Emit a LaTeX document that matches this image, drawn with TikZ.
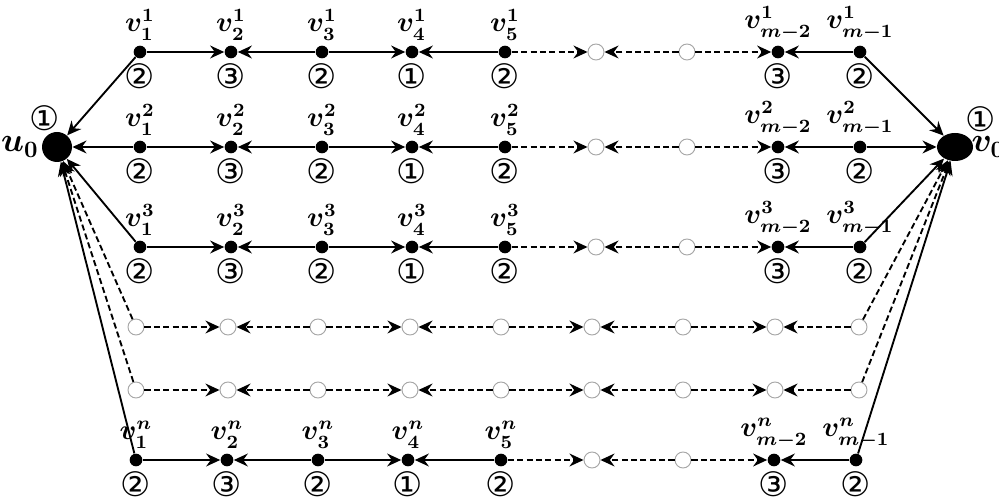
\documentclass[tikz,border=0pt]{standalone}
\usepackage{fontspec}
\newfontfamily\circfont{DejaVu Sans}
\usetikzlibrary{arrows.meta,shapes.geometric}

\tikzset{
  dot/.style={circle,fill=black,inner sep=0pt,minimum size=0.19cm},
  hole/.style={circle,draw=black!35,fill=white,inner sep=0pt,minimum size=0.24cm},
  lab/.style={font=\boldmath\large,inner sep=1pt,label distance=1pt},
  num/.style={font=\circfont\Large,inner sep=0pt,label distance=2pt},
  arr/.style={-{Stealth[length=6pt,width=5.5pt,inset=2pt]},line width=0.8pt},
  darr/.style={arr,dash pattern=on 2.6pt off 1.4pt},
}

\begin{document}
\begin{tikzpicture}[x=0.015cm,y=-0.015cm]
  \useasboundingbox (0,0) rectangle (999,499);

  % end vertices
  \node[circle,fill=black,inner sep=0pt,minimum size=0.45cm,
        label={[lab,font=\boldmath\Large,label distance=0pt]left:$u_0$},
        label={[num,label distance=0pt,xshift=-0.18cm]above:①}] (u0) at (57,147) {};
  \node[ellipse,fill=black,inner sep=0pt,minimum width=0.54cm,minimum height=0.42cm,
        label={[lab,font=\boldmath\Large,label distance=-2pt]right:$v_0$},
        label={[num,label distance=1pt]55:①}] (v0) at (955,147) {};

  % labelled paths
  \foreach \r/\y/\s in {1/52/0, 2/147/0, 3/247/0, n/460/-4}{
    \foreach \c/\x/\i/\k in {1/140/1/②, 2/231/2/③, 3/322/3/②, 4/412/4/①,
                             5/505/5/②, 8/778/m-2/③, 9/860/m-1/②}
      \node[dot,label={[lab]above:$v^{\r}_{\i}$},label={[num]below:\k}]
        (v\r-\c) at (\x+\s,\y) {};
    \node[hole] (v\r-6) at (596+\s,\y) {};
    \node[hole] (v\r-7) at (687+\s,\y) {};
    \foreach \a/\b/\st in {1/2/arr, 3/2/arr, 3/4/arr, 5/4/arr,
                           5/6/darr, 7/6/darr, 7/8/darr, 9/8/arr}
      \draw[\st] (v\r-\a) -- (v\r-\b);
    \draw[arr] (v\r-1) -- (u0);
    \draw[arr] (v\r-9) -- (v0);
  }

  % unlabelled paths
  \foreach \r/\y in {4/327, 5/390}{
    \foreach \c/\x in {1/136, 2/228, 3/318, 4/410, 5/501, 6/592, 7/683, 8/775, 9/859}
      \node[hole] (v\r-\c) at (\x,\y) {};
    \foreach \a/\b in {1/2, 3/2, 3/4, 5/4, 5/6, 7/6, 7/8, 9/8}
      \draw[darr] (v\r-\a) -- (v\r-\b);
    \draw[darr] (v\r-1) -- (u0);
    \draw[darr] (v\r-9) -- (v0);
  }
\end{tikzpicture}
\end{document}
